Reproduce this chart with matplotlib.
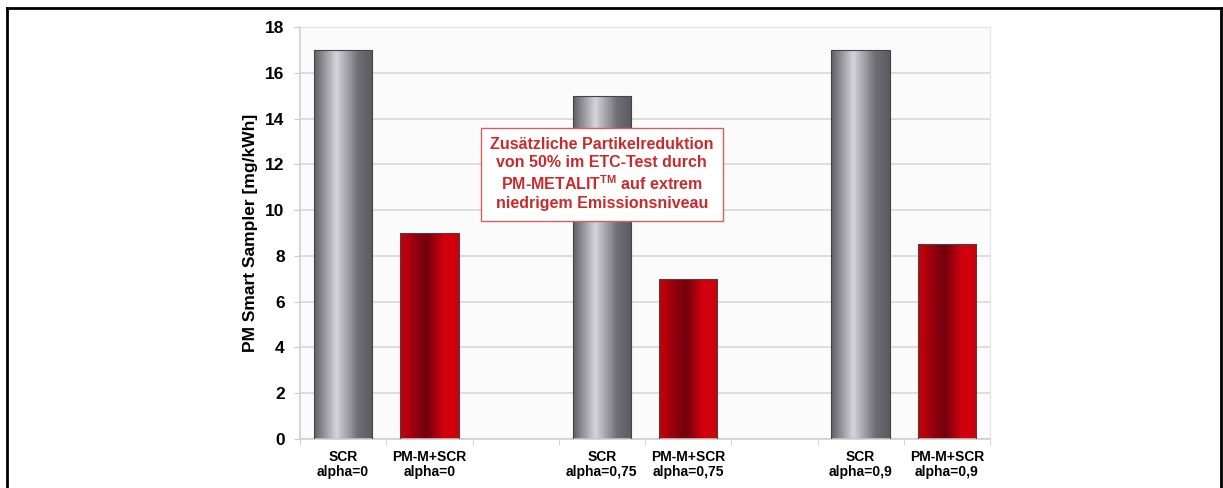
import numpy as np
import matplotlib.pyplot as plt
from matplotlib.colors import LinearSegmentedColormap
from matplotlib.lines import Line2D

plt.rcParams['font.family'] = ['Liberation Sans', 'DejaVu Sans']

# Daten
labels = ["SCR\nalpha=0", "PM-M+SCR\nalpha=0", "",
          "SCR\nalpha=0,75", "PM-M+SCR\nalpha=0,75", "",
          "SCR\nalpha=0,9", "PM-M+SCR\nalpha=0,9"]
values = [17, 9, 0, 15, 7, 0, 17, 8.5]
kind = ["scr", "pm", None, "scr", "pm", None, "scr", "pm"]

W, H = 1223, 488
fig = plt.figure(figsize=(W / 100, H / 100), dpi=100)
ax = fig.add_axes([300 / W, 1 - 439 / H, 690 / W, 412 / H])
ax.set_facecolor("#fbfbfb")

gray_cmap = LinearSegmentedColormap.from_list(
    "g", [(0, "#5e5e64"), (0.38, "#d4d4da"), (0.75, "#6e6e74"), (1, "#5a5a60")])
red_cmap = LinearSegmentedColormap.from_list(
    "r", [(0, "#c8000c"), (0.45, "#70000c"), (0.75, "#d4000e"), (1, "#cc000c")])

x = np.arange(len(labels))
grad = np.linspace(0, 1, 256).reshape(1, -1)
for xi, v, k in zip(x, values, kind):
    if k is None:
        continue
    b = ax.bar(xi, v, width=0.68, color="none", edgecolor="#444444",
               linewidth=0.8, zorder=3)[0]
    cmap = gray_cmap if k == "scr" else red_cmap
    im = ax.imshow(grad, cmap=cmap, aspect="auto", zorder=2,
                   extent=[b.get_x(), b.get_x() + b.get_width(), 0, v])
    im.set_clip_path(b)

ax.set_xlim(-0.5, len(labels) - 0.5)
ax.set_ylim(0, 18)
ax.set_yticks(range(0, 19, 2))
ax.set_yticklabels([str(t) for t in range(0, 19, 2)], fontsize=12.5, fontweight="bold")
ax.set_xticks(x)
ax.set_xticklabels(labels, fontsize=10, fontweight="bold", linespacing=1.1)
ax.set_xticks(np.arange(-0.5, len(labels), 1), minor=True)
ax.tick_params(axis="x", which="major", length=0, pad=8)
ax.tick_params(axis="x", which="minor", length=4, color="#cccccc")
ax.tick_params(axis="y", length=4, color="#cccccc", pad=7)
ax.yaxis.grid(True, color="#d8d8d8", linewidth=1.2, zorder=0)
ax.set_axisbelow(True)
for s in ["top", "right"]:
    ax.spines[s].set_color("#e4e4e4")
for s in ["left", "bottom"]:
    ax.spines[s].set_color("#cfcfcf")
    ax.spines[s].set_linewidth(1.2)

ax.set_ylabel("PM Smart Sampler [mg/kWh]", fontsize=12.5, fontweight="bold", labelpad=5)

ax.text(3, 11.57,
        "Zusätzliche Partikelreduktion\nvon 50% im ETC-Test durch\nPM-METALIT$^{\\mathregular{TM}}$ auf extrem\nniedrigem Emissionsniveau",
        ha="center", va="center", fontsize=11.5, fontweight="bold", color="#cc2a2a",
        linespacing=1.25, zorder=5,
        bbox=dict(boxstyle="square,pad=0.6", facecolor="white", edgecolor="#d66060", linewidth=1))

# Rahmen
for (x0, y0, x1, y1) in [(7, 8, 1221, 8), (7, 8, 7, 488), (1221, 8, 1221, 488)]:
    fig.add_artist(Line2D([x0 / W, x1 / W], [1 - y0 / H, 1 - y1 / H],
                          transform=fig.transFigure, color="black", linewidth=2))

fig.savefig("out.png", dpi=100)
